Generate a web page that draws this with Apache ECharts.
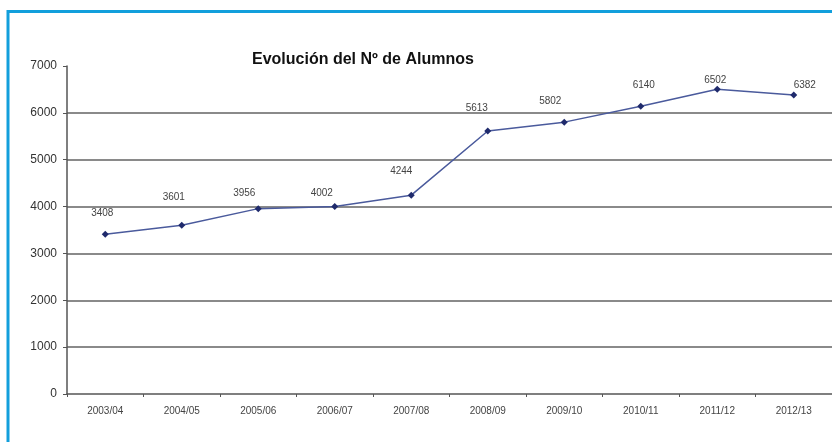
<!DOCTYPE html>
<html>
<head>
<meta charset="utf-8">
<script src="https://cdn.jsdelivr.net/npm/echarts@6/dist/echarts.min.js"></script>
<style>
html,body{margin:0;padding:0;background:#fff;}
#c{width:832px;height:442px;}
</style>
</head>
<body>
<div id="c"></div>
<script>
var categories = ['2003/04','2004/05','2005/06','2006/07','2007/08','2008/09','2009/10','2010/11','2011/12','2012/13'];
var alumnos = [3408, 3601, 3956, 4002, 4244, 5613, 5802, 6140, 6502, 6382];
var yTicks = [0, 1000, 2000, 3000, 4000, 5000, 6000, 7000];
var titleText = 'Evolución del Nº de Alumnos';
// label placement (style only): offsets from each point, in px
var labelOffsets = [[-3,-21],[-8,-28],[-14,-15],[-13,-13],[-10,-24],[-11,-23],[-14,-21],[3,-21],[-2,-9],[11,-10]];

var chart = echarts.init(document.getElementById('c'), null, {renderer:'canvas'});
var splitColors = yTicks.map(function(v, i){ return (i === 0 || i === yTicks.length - 1) ? 'rgba(0,0,0,0)' : '#8a8a8a'; });
var seriesData = alumnos.map(function(v, i){
  return { value: v, label: { offset: labelOffsets[i] } };
});
chart.setOption({
  backgroundColor: '#ffffff',
  animation: false,
  title: {
    text: titleText,
    left: 247, top: 47,
    textStyle: { fontFamily: 'Liberation Sans, Arial, sans-serif', fontSize: 16, fontWeight: 'bold', color: '#111' }
  },
  graphic: [{
    type: 'rect', silent: true, z: 100,
    shape: { x: 8, y: 11.5, width: 900, height: 500 },
    style: { fill: 'none', stroke: '#129fdc', lineWidth: 3 }
  }],
  grid: { left: 67, top: 66, width: 775, height: 328, containLabel: false },
  xAxis: {
    type: 'category',
    data: categories,
    boundaryGap: true,
    axisLine: { lineStyle: { color: '#555', width: 1.5 } },
    axisTick: { show: true, length: 3, inside: false, lineStyle: { color: '#555' } },
    axisLabel: { fontFamily: 'Liberation Sans, Arial, sans-serif', fontSize: 10, color: '#444', margin: 12 },
    splitLine: { show: false }
  },
  yAxis: {
    type: 'value',
    min: 0, max: 7000, interval: 1000,
    axisLine: { show: true, lineStyle: { color: '#555', width: 1.5 } },
    axisTick: { show: true, length: 4, lineStyle: { color: '#555' } },
    axisLabel: { fontFamily: 'Liberation Sans, Arial, sans-serif', fontSize: 12, color: '#333', margin: 10,
      formatter: function(v){ return String(v); } },
    splitLine: { show: true, lineStyle: { color: splitColors, width: 2 } }
  },
  series: [{
    type: 'line',
    data: seriesData,
    symbol: 'diamond',
    symbolSize: 7,
    itemStyle: { color: '#1f2a6c' },
    lineStyle: { color: '#4a5a9c', width: 1.5 },
    label: {
      show: true, position: 'inside',
      fontFamily: 'Liberation Sans, Arial, sans-serif', fontSize: 10, color: '#444'
    }
  }]
});
</script>
</body>
</html>
